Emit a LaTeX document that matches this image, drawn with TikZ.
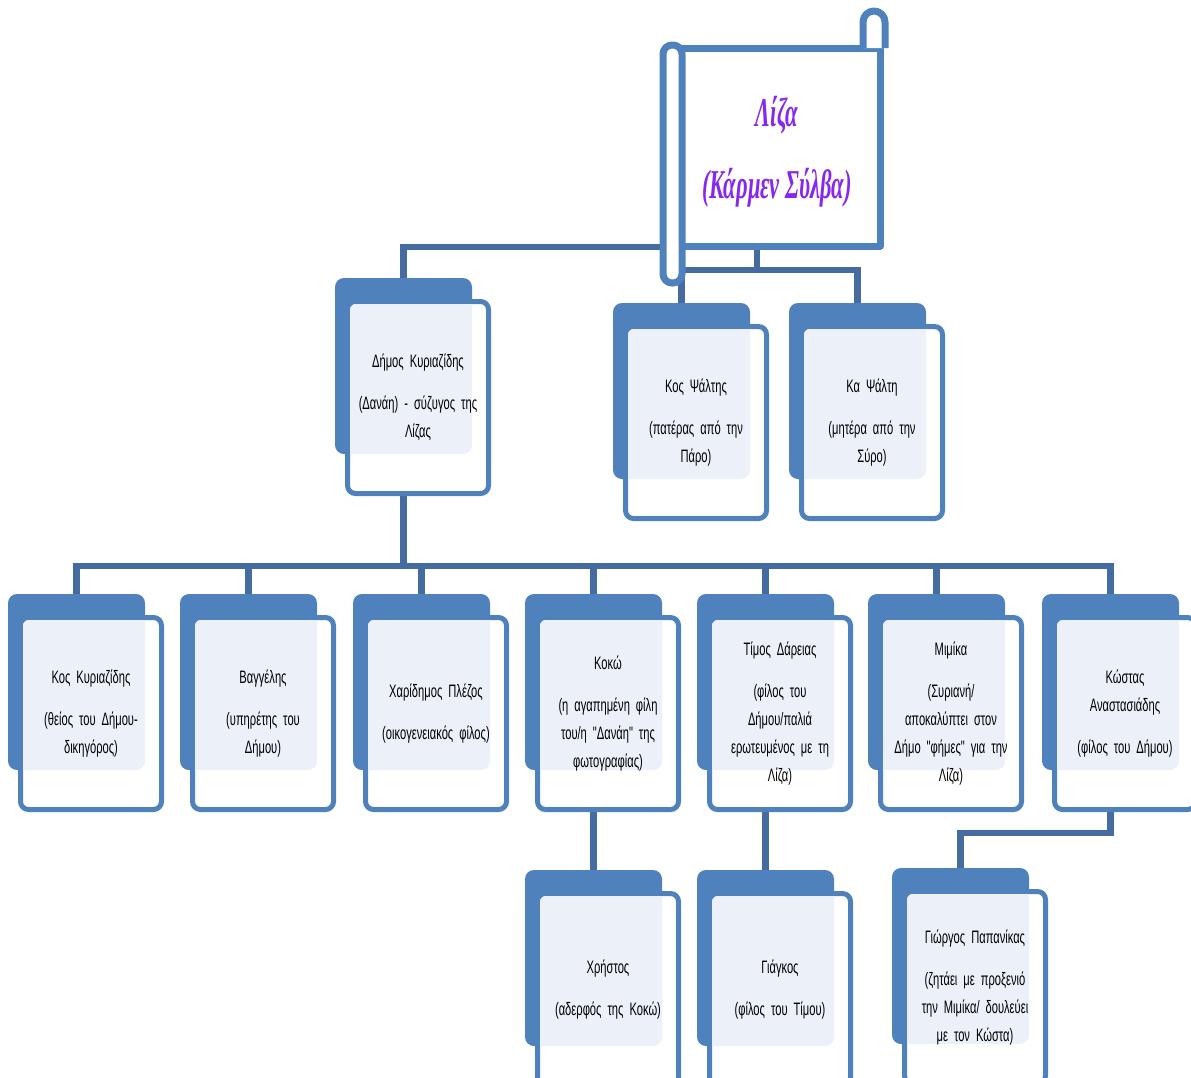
\documentclass[tikz,border=0pt]{standalone}
\usepackage{fontspec}
\newfontfamily\cardfont[FakeStretch=0.62]{Liberation Sans}
\newfontfamily\titlefont[FakeStretch=0.55]{Liberation Serif}
\definecolor{boxblue}{RGB}{79,129,189}
\definecolor{lightfill}{RGB}{236,241,249}
\definecolor{linkblue}{RGB}{68,108,160}
\definecolor{lizapurple}{RGB}{135,40,240}
\pgfdeclarelayer{bg}
\pgfsetlayers{bg,main}
\tikzset{
  backbox/.style={fill=boxblue, draw=none, rounded corners=9pt, minimum width=137pt, minimum height=176pt, inner sep=0pt},
  frontbox/.style={fill=white, draw=boxblue, line width=5pt, rounded corners=8pt, minimum width=141pt, minimum height=192pt, inner sep=0pt},
  cardtext/.style={font=\cardfont\fontsize{18}{28}\selectfont, align=center, text width=140pt, inner sep=0pt},
  link/.style={draw=linkblue, line width=6.5pt},
  scrollline/.style={draw=boxblue, line width=7pt, fill=white, line join=round},
  titletext/.style={text=lizapurple, font=\titlefont\bfseries\itshape\fontsize{41}{72}\selectfont, align=center, inner sep=0pt}
}
\newcommand\famcard[4]{%
  \begin{scope}[shift={(#2,#3)}]
    \node[backbox] (#1-b) at (68.5,88) {};
    \node[frontbox] (#1) at (83,119.5) {};
    \begin{scope}
      \clip[rounded corners=6pt] (15,26) rectangle (151,213);
      \fill[lightfill, rounded corners=9pt] (0,0) rectangle (137,176);
    \end{scope}
    \node[cardtext] (#1-t) at (83,119.5) {#4};
  \end{scope}}
\begin{document}
\begin{tikzpicture}[x=1pt,y=-1pt]
\useasboundingbox (0,0) rectangle (1191,1077);
% scroll
\draw[scrollline] (672,48) rectangle (880,246);
\draw[scrollline] (863,48) -- (863,22) arc[start angle=180,end angle=360,radius=11] -- (885,48);
\draw[scrollline, rounded corners=9pt] (663,45) rectangle (682,283);
\node[titletext] (liza) at (777,152) {Λίζα\\(Κάρμεν Σύλβα)};
\coordinate (scrollbot) at (757,246);
\coordinate (scrollleft) at (662,247);
\coordinate (psbus) at (757,270);
\coordinate (bus) at (403.5,566);
% cards
\famcard{dimos}{335}{278}{Δήμος Κυριαζίδης\\[14pt](Δανάη) - σύζυγος της\\Λίζας}
\famcard{psaltis}{613}{303}{Κος Ψάλτης\\[14pt](πατέρας από την\\Πάρο)}
\famcard{psalti}{789}{303}{Κα Ψάλτη\\[14pt](μητέρα από την\\Σύρο)}
\famcard{kyr}{8}{594}{Κος Κυριαζίδης\\[14pt](θείος του Δήμου-\\δικηγόρος)}
\famcard{vangelis}{180}{594}{Βαγγέλης\\[14pt](υπηρέτης του\\Δήμου)}
\famcard{charidimos}{353}{594}{Χαρίδημος Πλέζος\\[14pt](οικογενειακός φίλος)}
\famcard{koko}{525}{594}{Κοκώ\\[14pt](η αγαπημένη φίλη\\του/η "Δανάη" της\\φωτογραφίας)}
\famcard{timos}{697}{594}{Τίμος Δάρειας\\[14pt](φίλος του\\Δήμου/παλιά\\ερωτευμένος με τη\\Λίζα)}
\famcard{mimika}{868}{594}{Μιμίκα\\[14pt](Συριανή/\\αποκαλύπτει στον\\Δήμο "φήμες" για την\\Λίζα)}
\famcard{kostas}{1042}{594}{Κώστας\\Αναστασιάδης\\[14pt](φίλος του Δήμου)}
\famcard{christos}{525}{870}{Χρήστος\\[14pt](αδερφός της Κοκώ)}
\famcard{giagkos}{697}{870}{Γιάγκος\\[14pt](φίλος του Τίμου)}
\famcard{giorgos}{892}{868}{Γιώργος Παπανίκας\\[14pt](ζητάει με προξενιό\\την Μιμίκα/ δουλεύει\\με τον Κώστα)}
% connectors
\begin{pgfonlayer}{bg}
\draw[link] (scrollleft) -| (dimos-b.north);
\draw[link] (scrollbot) -- (psbus);
\draw[link] (psbus) -| (psaltis-b.north);
\draw[link] (psbus) -| (psalti-b.north);
\draw[link] (dimos-b.south) -- (bus);
\foreach \c in {kyr,vangelis,charidimos,koko,timos,mimika,kostas}
  \draw[link] (bus) -| (\c-b.north);
\draw[link] (koko-b.south) -- (christos-b.north);
\draw[link] (timos-b.south) -- (giagkos-b.north);
\draw[link] (kostas-b.south) -- ++(0,63) -| (giorgos-b.north);
\end{pgfonlayer}
\end{tikzpicture}
\end{document}
